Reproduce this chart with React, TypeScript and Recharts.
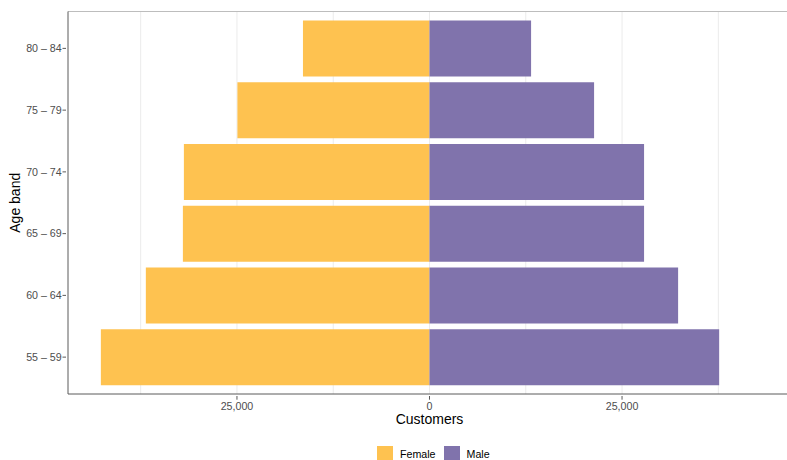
import React from 'react';
import { BarChart, Bar, XAxis, YAxis, CartesianGrid, Legend, Label } from 'recharts';

if (typeof document !== 'undefined') {
  document.body.style.margin = '0';
  document.body.style.overflow = 'hidden';
}

const ageBands = ['80 – 84', '75 – 79', '70 – 74', '65 – 69', '60 – 64', '55 – 59'];
const femaleCustomers = [16430, 24940, 31890, 32020, 36830, 42670];
const maleCustomers = [13190, 21370, 27860, 27860, 32280, 37610];
const xTicks = [-37500, -25000, -12500, 0, 12500, 25000, 37500];
const xDomain = [-46937, 46548];

const FEMALE_COLOR = '#FEC250';
const MALE_COLOR = '#8073AC';

const data = ageBands.map((band, i) => ({
  band,
  Female: -femaleCustomers[i],
  Male: maleCustomers[i],
}));

const fmt = (v: number) => Math.abs(v).toLocaleString('en-US');

const gridX = ({ offset }: any) =>
  xTicks.map((t) => offset.left + ((t - xDomain[0]) / (xDomain[1] - xDomain[0])) * offset.width);
const topBorderY = ({ offset }: any) => [offset.top];

const XTick = (props: any) => {
  const { x, y, payload } = props;
  const v = payload.value;
  if (v % 25000 !== 0) return <g />;
  return (
    <g>
      <line x1={x} x2={x} y1={y} y2={y + 3.7} stroke="#5a5a5a" strokeWidth={1} />
      <text x={x} y={y + 13.5} textAnchor="middle" fill="#4d4d4d" fontSize={10.67}>
        {fmt(v)}
      </text>
    </g>
  );
};

const YTick = (props: any) => {
  const { x, y, payload } = props;
  return (
    <g>
      <line x1={x - 3.5} x2={x} y1={y} y2={y} stroke="#5a5a5a" strokeWidth={1} />
      <text x={x - 4.3} y={y + 3.8} textAnchor="end" fill="#4d4d4d" fontSize={10.67}>
        {payload.value}
      </text>
    </g>
  );
};

const renderLegend = () => (
  <div
    style={{
      height: 14,
      display: 'flex',
      alignItems: 'flex-start',
      paddingLeft: 377,
      fontSize: 10.67,
      lineHeight: '14px',
      color: '#000',
      fontFamily: 'Liberation Sans, Arial, sans-serif',
      overflow: 'hidden',
    }}
  >
    <div style={{ width: 16, height: 17, background: FEMALE_COLOR, marginRight: 7 }} />
    <span style={{ marginRight: 8, marginTop: 1 }}>Female</span>
    <div style={{ width: 16, height: 17, background: MALE_COLOR, marginRight: 7 }} />
    <span style={{ marginTop: 1 }}>Male</span>
  </div>
);

export default function App() {
  return (
    <BarChart
      layout="vertical"
      width={787}
      height={460}
      data={data}
      margin={{ top: 11.5, right: -1, bottom: 0, left: 0 }}
      stackOffset="sign"
      barCategoryGap="5%"
      style={{ fontFamily: 'Liberation Sans, Arial, sans-serif', overflow: 'hidden' }}
    >
      <CartesianGrid
        horizontal={false}
        syncWithTicks
        verticalCoordinatesGenerator={gridX}
        stroke="#ebebeb"
        strokeWidth={1}
      />
      <CartesianGrid
        vertical={false}
        horizontalCoordinatesGenerator={topBorderY}
        stroke="#bdbdbd"
        strokeWidth={1}
      />
      <XAxis
        type="number"
        domain={xDomain}
        ticks={xTicks}
        interval={0}
        tickSize={0}
        tickLine={false}
        axisLine={{ stroke: '#5a5a5a', strokeWidth: 1 }}
        tick={<XTick />}
        height={52}
      >
        <Label
          content={(p: any) => {
            const vb = p.viewBox;
            return (
              <text x={429.5} y={vb.y + 30} textAnchor="middle" fill="#000" fontSize={14}>
                Customers
              </text>
            );
          }}
        />
      </XAxis>
      <YAxis
        type="category"
        dataKey="band"
        width={68}
        interval={0}
        tickSize={0}
        tickLine={false}
        axisLine={{ stroke: '#5a5a5a', strokeWidth: 1 }}
        tick={<YTick />}
        padding={{ top: 6, bottom: 6 }}
      >
        <Label
          content={(p: any) => {
            const vb = p.viewBox;
            const cy = vb.y + vb.height / 2;
            return (
              <text
                x={15}
                y={cy}
                transform={`rotate(-90 15 ${cy})`}
                textAnchor="middle"
                dominantBaseline="central"
                fill="#000"
                fontSize={14}
              >
                Age band
              </text>
            );
          }}
        />
      </YAxis>
      <Legend verticalAlign="bottom" content={renderLegend} wrapperStyle={{ bottom: 0, left: 0, width: 787 }} />
      <Bar dataKey="Female" stackId="a" fill={FEMALE_COLOR} isAnimationActive={false} />
      <Bar dataKey="Male" stackId="a" fill={MALE_COLOR} isAnimationActive={false} />
    </BarChart>
  );
}
